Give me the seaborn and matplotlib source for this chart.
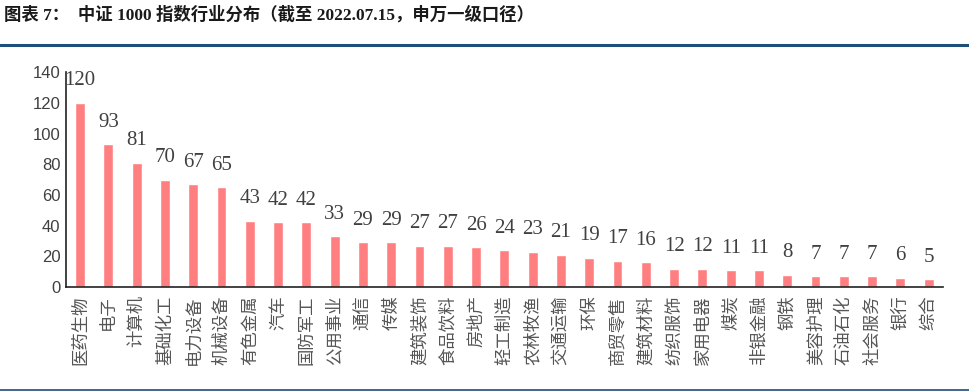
import matplotlib
matplotlib.use('Agg')
import matplotlib.pyplot as plt
import seaborn as sns
import pandas as pd
from matplotlib.lines import Line2D

industries = ['医药生物', '电子', '计算机', '基础化工', '电力设备', '机械设备', '有色金属', '汽车',
              '国防军工', '公用事业', '通信', '传媒', '建筑装饰', '食品饮料', '房地产', '轻工制造',
              '农林牧渔', '交通运输', '环保', '商贸零售', '建筑材料', '纺织服饰', '家用电器', '煤炭',
              '非银金融', '钢铁', '美容护理', '石油石化', '社会服务', '银行', '综合']
counts = [120, 93, 81, 70, 67, 65, 43, 42, 42, 33, 29, 29, 27, 27, 26, 24,
          23, 21, 19, 17, 16, 12, 12, 11, 11, 8, 7, 7, 7, 6, 5]
y_ticks = [0, 20, 40, 60, 80, 100, 120, 140]

df = pd.DataFrame({'industry': industries, 'count': counts})

sns.set_theme(style='white')
plt.rcParams['font.family'] = ['Noto Sans CJK SC', 'DejaVu Sans']

fig = plt.figure(figsize=(9.69, 3.92), dpi=100)
ax = fig.add_axes([0.068, 0.268, 0.905, 0.548])

sns.barplot(data=df, x='industry', y='count', color='#FF7F80', saturation=1,
            width=0.35, ax=ax)

# value labels above bars
for i, v in enumerate(counts):
    ax.annotate(str(v), (i, v), xytext=(0, 9), textcoords='offset points',
                ha='center', va='bottom', fontsize=15,
                family=['Liberation Serif'], color='#404040')

ax.set_xlim(-0.5, len(industries) - 0.5)
ax.set_ylim(0, 140)
ax.set_yticks(y_ticks)
ax.set_yticklabels([str(t) for t in y_ticks], family=['Liberation Sans'],
                   fontsize=12, color='#404040')
ax.set_xticks(range(len(industries)))
ax.set_xticklabels(industries, rotation=90, fontsize=12.5, color='#555555')
ax.set_xticks([i + 0.5 for i in range(len(industries))], minor=True)
ax.tick_params(axis='x', which='major', length=0, pad=6)
ax.tick_params(axis='x', which='minor', direction='in', length=4, width=1, color='#222222')
ax.tick_params(axis='y', length=0, pad=4)
ax.set_xlabel('')
ax.set_ylabel('')

for s in ['top', 'right']:
    ax.spines[s].set_visible(False)
for s in ['left', 'bottom']:
    ax.spines[s].set_color('#222222')
    ax.spines[s].set_linewidth(1.2)

# header and rules
fig.text(0.004, 0.962, '图表 7：  中证 1000 指数行业分布（截至 2022.07.15，申万一级口径）',
         fontsize=12.5, fontweight='bold', color='#1a1a1a',
         family=['Liberation Serif', 'Noto Sans CJK SC'], va='center', ha='left')
fig.add_artist(Line2D([0, 1], [0.885, 0.885], transform=fig.transFigure,
                      color='#1F4E79', linewidth=2.2))
fig.add_artist(Line2D([0, 1], [0.006, 0.006], transform=fig.transFigure,
                      color='#1F4E79', linewidth=1.2))

fig.savefig('out.png', dpi=100)
